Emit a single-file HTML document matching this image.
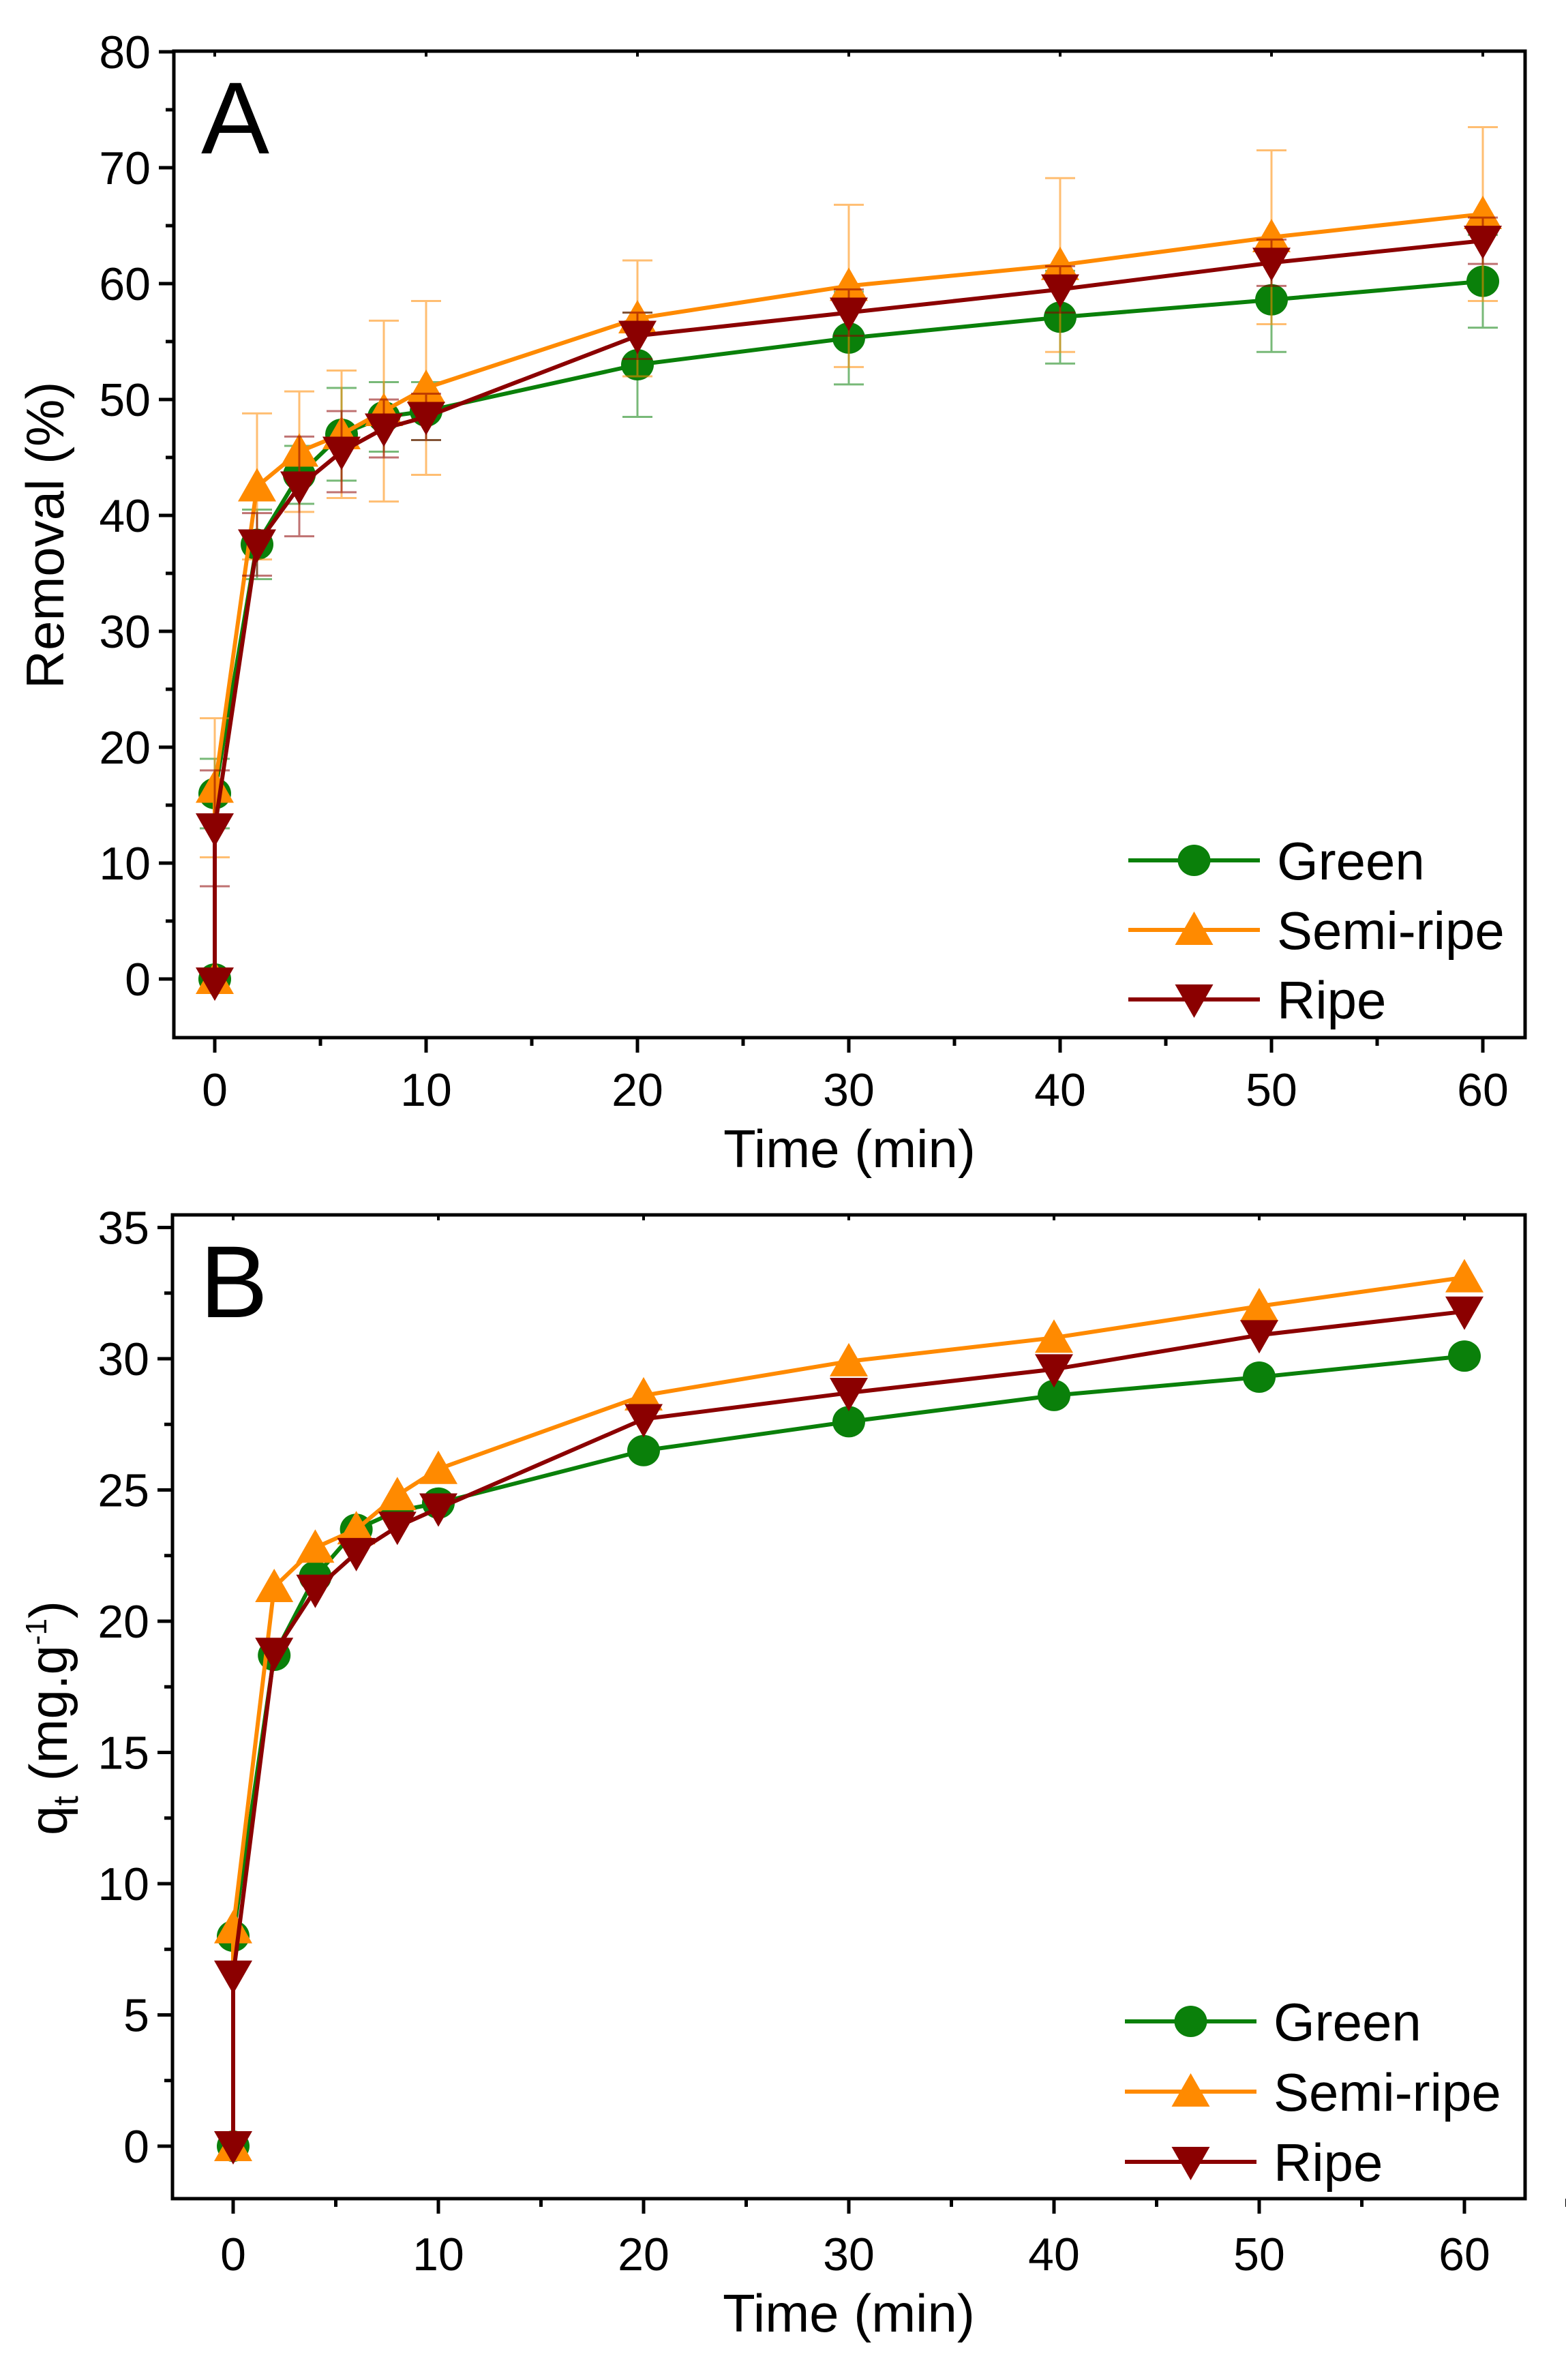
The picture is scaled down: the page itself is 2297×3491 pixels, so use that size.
<!DOCTYPE html>
<html><head><meta charset="utf-8"><style>
html,body{margin:0;padding:0;background:#fff}
svg{display:block;font-family:"Liberation Sans",Arial,sans-serif}
</style></head><body>
<svg id="fig" width="2297" height="3491" viewBox="0 0 2297 3491"></svg>
<script>
const times = [0, 0, 2, 4, 6, 8, 10, 20, 30, 40, 50, 60];
const removalGreen = [0, 16, 37.5, 43.5, 47, 48.5, 49, 53, 55.3, 57.1, 58.6, 60.2];
const removalSemi = [0, 16.5, 42.5, 45.5, 47, 49, 51, 57, 59.8, 61.6, 64, 66];
const removalRipe = [-0.3, 13, 37.5, 42.5, 45.5, 47.5, 48.5, 55.5, 57.5, 59.5, 61.8, 63.7];
const errGreen = [0, 3, 3, 2.5, 4, 3, 2.5, 4.5, 4, 4, 4.5, 4];
const errSemi = [0, 6, 6.3, 5.2, 5.5, 7.8, 7.5, 5, 7, 7.5, 7.5, 7.5];
const errRipe = [0, 5, 2.7, 4.3, 3.5, 2.5, 2, 2, 2, 2, 2, 2];
const qtGreen = [0, 8, 18.7, 21.7, 23.5, 24.2, 24.5, 26.5, 27.6, 28.6, 29.3, 30.1];
const qtSemi = [0, 8.3, 21.3, 22.8, 23.5, 24.8, 25.8, 28.6, 29.9, 30.8, 32, 33.1];
const qtRipe = [0, 6.5, 18.8, 21.2, 22.6, 23.6, 24.3, 27.7, 28.7, 29.6, 30.9, 31.8];
const xTicks = [0, 10, 20, 30, 40, 50, 60];
const yTicksA = [0, 10, 20, 30, 40, 50, 60, 70, 80];
const yTicksB = [0, 5, 10, 15, 20, 25, 30, 35];
const seriesNames = ["Green", "Semi-ripe", "Ripe"];

const NS = "http://www.w3.org/2000/svg";
const svg = document.getElementById("fig");
const COLORS = ["#0a800a", "#ff8a00", "#8b0000"];
function mk(tag, attrs, parent) {
  const e = document.createElementNS(NS, tag);
  for (const k in attrs) e.setAttribute(k, attrs[k]);
  (parent || svg).appendChild(e);
  return e;
}
function marker(g, kind, cx, cy, color) {
  let m;
  if (kind === 0) m = mk("ellipse", {cx: cx, cy: cy, rx: 24, ry: 23, fill: color}, g);
  else if (kind === 1) m = mk("polygon", {points: `${cx},${cy-27} ${cx-28},${cy+22} ${cx+28},${cy+22}`, fill: color}, g);
  else m = mk("polygon", {points: `${cx},${cy+27} ${cx-28},${cy-22} ${cx+28},${cy-22}`, fill: color}, g);
  return m;
}

function panel(cfg) {
  const {L, R, T, B, x0, xPer, y0, yPer, yStep, yMinor, yTicks, ys, errs, label, ytitle, legend, xLabelY, xTitleY, prefix} = cfg;
  const sx = v => x0 + v * xPer;
  const sy = v => y0 - v * yPer;
  const g = mk("g", {});
  
  
  const frame = mk("rect", {x: L, y: T, width: R - L, height: B - T, fill: "none", stroke: "#000", "stroke-width": 5}, g);
  
  
  const yAx = mk("g", {}, g);
  
  
  yTicks.forEach(v => {
    mk("line", {x1: L - 22, x2: L, y1: sy(v), y2: sy(v), stroke: "#000", "stroke-width": 5}, yAx);
    const t = mk("text", {x: L - 34, y: sy(v) + 24, "text-anchor": "end", "font-size": 68, fill: "#000"}, yAx);
    t.textContent = v;
    
    
  });
  for (let v = yTicks[0] - yMinor; v < yTicks[yTicks.length - 1]; v += yStep) {
    if (sy(v) < B - 2 && sy(v) > T) mk("line", {x1: L - 12, x2: L, y1: sy(v), y2: sy(v), stroke: "#000", "stroke-width": 5}, yAx);
  }
  const xAx = mk("g", {}, g);
  
  
  xTicks.forEach(v => {
    mk("line", {x1: sx(v), x2: sx(v), y1: B, y2: B + 22, stroke: "#000", "stroke-width": 5}, xAx);
    mk("line", {x1: sx(v), x2: sx(v), y1: T, y2: T + 8, stroke: "#000", "stroke-width": 4}, xAx);
    mk("line", {x1: sx(v + 5), x2: sx(v + 5), y1: B, y2: B + 12, stroke: "#000", "stroke-width": 5}, xAx);
    const t = mk("text", {x: sx(v), y: xLabelY, "text-anchor": "middle", "font-size": 68, fill: "#000"}, xAx);
    t.textContent = v;
    
    
  });
  const xt = mk("text", {x: (L + R) / 2, y: xTitleY, "text-anchor": "middle", "font-size": 78, fill: "#000"}, g);
  xt.textContent = "Time (min)";
  
  
  ytitle(g);
  const pl = mk("text", {x: L + 40, y: T + 150, "font-size": 150, fill: "#000"}, g);
  pl.textContent = label;
  
  
  ys.forEach((arr, si) => {
    const sg = mk("g", {}, g);
    
    
    if (errs) {
      arr.forEach((v, i) => {
        const e = errs[si][i];
        if (!e) return;
        const x = sx(times[i]);
        const eg = mk("g", {stroke: COLORS[si], "stroke-width": 3, opacity: 0.55}, sg);
        
        
        mk("line", {x1: x, x2: x, y1: sy(v - e), y2: sy(v + e)}, eg);
        mk("line", {x1: x - 22, x2: x + 22, y1: sy(v - e), y2: sy(v - e)}, eg);
        mk("line", {x1: x - 22, x2: x + 22, y1: sy(v + e), y2: sy(v + e)}, eg);
      });
    }
    const pts = arr.map((v, i) => sx(times[i]) + "," + sy(v)).join(" ");
    const ln = mk("polyline", {points: pts, fill: "none", stroke: COLORS[si], "stroke-width": 6}, sg);
    
    
    arr.forEach((v, i) => {
      const m = marker(sg, si, sx(times[i]), sy(v), COLORS[si]);
      
      
    });
  });
  const lg = mk("g", {}, g);
  
  
  seriesNames.forEach((n, si) => {
    const y = legend.y0 + si * legend.dy;
    const eg = mk("g", {}, lg);
    
    
    mk("line", {x1: legend.x1, x2: legend.x2, y1: y, y2: y, stroke: COLORS[si], "stroke-width": 6}, eg);
    marker(eg, si, (legend.x1 + legend.x2) / 2, y, COLORS[si]);
    const t = mk("text", {x: legend.tx, y: y + 28, "font-size": 78, fill: "#000"}, eg);
    t.textContent = n;
  });
}

panel({
  prefix: "panel-a", L: 255, R: 2237, T: 75, B: 1522,
  x0: 315, xPer: 31.0, y0: 1436, yPer: 17.0, yStep: 10, yMinor: 5,
  yTicks: yTicksA, ys: [removalGreen, removalSemi, removalRipe], errs: [errGreen, errSemi, errRipe],
  label: "A", xLabelY: 1622, xTitleY: 1712,
  legend: {x1: 1655, x2: 1848, tx: 1873, y0: 1262, dy: 102},
  ytitle: g => {
    const t = mk("text", {transform: "translate(93,785) rotate(-90)", "text-anchor": "middle", "font-size": 78, fill: "#000"}, g);
    t.textContent = "Removal (%)";
    
    
  }
});
panel({
  prefix: "panel-b", L: 253, R: 2237, T: 1782, B: 3225,
  x0: 342, xPer: 30.1, y0: 3148, yPer: 38.5, yStep: 5, yMinor: 2.5,
  yTicks: yTicksB, ys: [qtGreen, qtSemi, qtRipe], errs: null,
  label: "B", xLabelY: 3330, xTitleY: 3420,
  legend: {x1: 1650, x2: 1843, tx: 1868, y0: 2965, dy: 103},
  ytitle: g => {
    const t = mk("text", {transform: "translate(98,2520) rotate(-90)", "text-anchor": "middle", "font-size": 78, fill: "#000"}, g);
    t.innerHTML = 'q<tspan font-size="52" dy="16">t</tspan><tspan dy="-16"> (mg.g</tspan><tspan font-size="44" dy="-30">-1</tspan><tspan dy="30">)</tspan>';
    
    
  }
});
</script>
</body></html>
